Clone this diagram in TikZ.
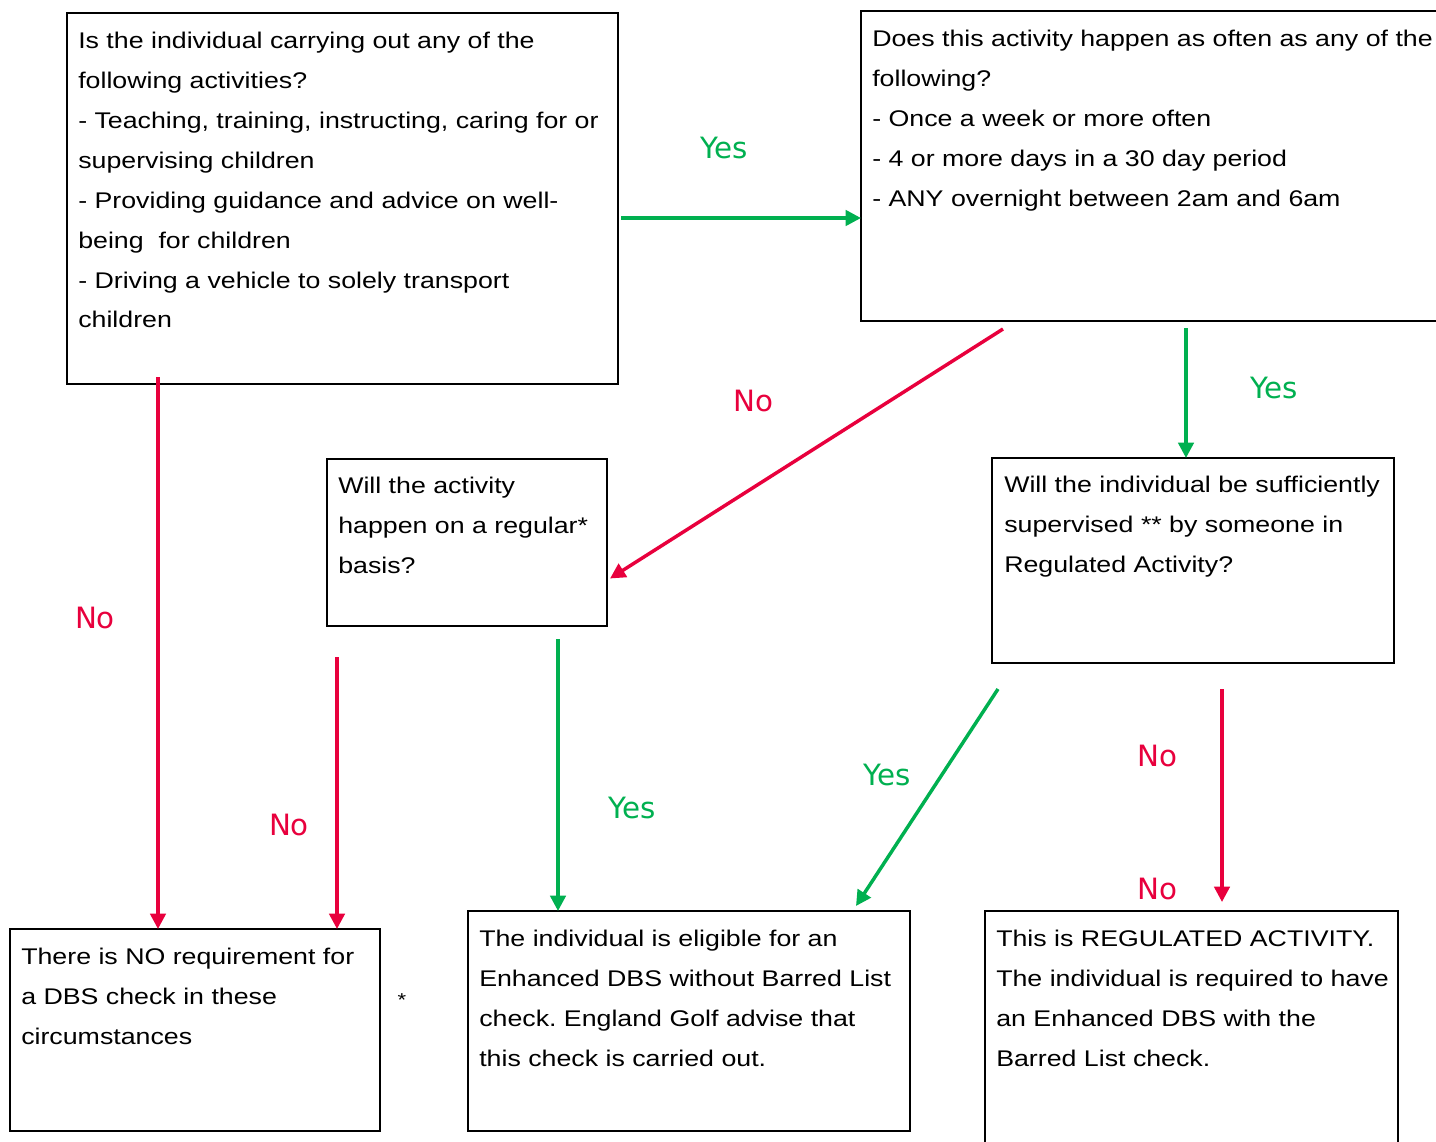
\documentclass[tikz,border=0pt]{standalone}
\usepackage{fontspec}
\setmainfont{Liberation Sans}[FakeStretch=1.18]
\newfontfamily\labelfont{DejaVu Sans}
\usetikzlibrary{arrows.meta,calc,fit}
\definecolor{ggreen}{RGB}{0,176,80}
\definecolor{rred}{RGB}{232,0,61}
\frenchspacing
\newcommand\boxlines[1]{\begin{tabular}[t]{@{}l@{}}#1\end{tabular}}
\begin{document}
\begin{tikzpicture}[x=0.75pt,y=-0.75pt,
  box/.style={draw, line width=1.5pt, inner sep=0pt, outer sep=0pt},
  txt/.style={anchor=base west, inner sep=0pt, font=\fontsize{17}{30}\selectfont},
  lab/.style={inner sep=0pt, font=\labelfont\fontsize{22}{26}\selectfont},
  garr/.style={draw=ggreen, line width=2.6pt, -{Triangle[length=11.5pt,width=11.5pt]}},
  rarr/.style={draw=rred, line width=2.6pt, -{Triangle[length=11.5pt,width=11.5pt]}}
]
\useasboundingbox (0,0) rectangle (1436,1142);
\clip (0,0) rectangle (1436,1142);
\fill[white] (0,0) rectangle (1436,1142);

% boxes
\node[box, fit={(67,13)(618,384)}] (A) {};
\node[box, fit={(861,11)(1450,321)}] (B) {};
\node[box, fit={(327,459)(607,626)}] (C) {};
\node[box, fit={(992,458)(1394,663)}] (D) {};
\node[box, fit={(10,929)(380,1131)}] (E) {};
\node[box, fit={(468,911)(910,1131)}] (F) {};
\node[box, fit={(985,911)(1398,1160)}] (G) {};

% texts
\node[txt] (tA) at ($(A.north west)+(11,35)$) {\boxlines{Is the individual carrying out any of the\\following activities?\\- Teaching, training, instructing, caring for or\\supervising children\\- Providing guidance and advice on well-\\being~ for children\\- Driving a vehicle to solely transport\\children}};
\node[txt] (tB) at ($(B.north west)+(11,35)$) {\boxlines{Does this activity happen as often as any of the\\following?\\- Once a week or more often\\- 4 or more days in a 30 day period\\- ANY overnight between 2am and 6am}};
\node[txt] (tC) at ($(C.north west)+(11,34)$) {\boxlines{Will the activity\\happen on a regular*\\basis?}};
\node[txt] (tD) at ($(D.north west)+(12,34)$) {\boxlines{Will the individual be sufficiently\\supervised ** by someone in\\Regulated Activity?}};
\node[txt] (tE) at ($(E.north west)+(11,35)$) {\boxlines{There is NO requirement for\\a DBS check in these\\circumstances}};
\node[txt] (tF) at ($(F.north west)+(11,35)$) {\boxlines{The individual is eligible for an\\Enhanced DBS without Barred List\\check. England Golf advise that\\this check is carried out.}};
\node[txt] (tG) at ($(G.north west)+(11,35)$) {\boxlines{This is REGULATED ACTIVITY.\\The individual is required to have\\an Enhanced DBS with the\\Barred List check.}};

% connectors
\draw[garr] ($(A.east |- 0,218)+(3,0)$) -- (B.west |- 0,218);
\draw[rarr] ($(B.south west)+(142,8)$) -- ($(C.east)+(3,36)$);
\draw[garr] ($(B.south -| 1186,0)+(0,7)$) -- (D.north -| 1186,0);
\draw[rarr] ($(A.south -| 158,0)+(0,-7)$) -- (E.north -| 158,0);
\draw[rarr] ($(C.south -| 337,0)+(0,31)$) -- (E.north -| 337,0);
\draw[garr] ($(C.south -| 558,0)+(0,13)$) -- (F.north -| 558,0);
\draw[garr] ($(D.south west)+(6,26)$) -- ($(F.north east)+(-54,-5)$);
\draw[rarr] ($(D.south -| 1222,0)+(0,26)$) -- ($(G.north -| 1222,0)+(0,-9)$);

% labels
\node[lab, text=ggreen] (l1) at (724,148) {Yes};
\node[lab, text=rred] (l2) at (753,401) {No};
\node[lab, text=ggreen] (l3) at (1274,388) {Yes};
\node[lab, text=rred] (l4) at (95,618) {No};
\node[lab, text=rred] (l5) at (289,825) {No};
\node[lab, text=ggreen] (l6) at (632,808) {Yes};
\node[lab, text=ggreen] (l7) at (887,775) {Yes};
\node[lab, text=rred] (l8) at (1157,756) {No};
\node[lab, text=rred] (l9) at (1157,889) {No};
\node[inner sep=0pt, font=\fontsize{14}{16}\selectfont] (star) at (402,1000) {*};
\end{tikzpicture}
\end{document}
